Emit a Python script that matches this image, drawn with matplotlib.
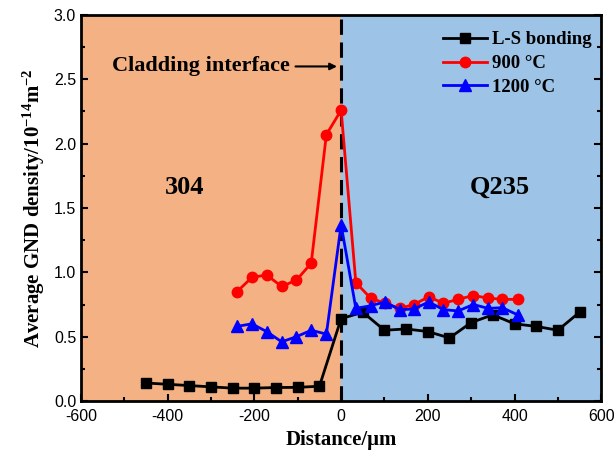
import numpy as np
import matplotlib.pyplot as plt
from matplotlib.ticker import MultipleLocator

# L-S bonding
ls_x = [-450, -400, -350, -300, -250, -200, -150, -100, -50, 0,
        50, 100, 150, 200, 250, 300, 350, 400, 450, 500, 550]
ls_y = [0.14, 0.13, 0.12, 0.11, 0.10, 0.10, 0.105, 0.106, 0.115, 0.64,
        0.69, 0.55, 0.56, 0.54, 0.49, 0.61, 0.67, 0.60, 0.58, 0.55, 0.69]

# 900 °C and 1200 °C share the same positions
ht_x = [-240, -206, -172, -137, -103, -69, -34, 0,
        34, 68, 101, 135, 168, 202, 236, 270, 305, 339, 372, 407]
y_900 = [0.85, 0.96, 0.98, 0.89, 0.94, 1.07, 2.07, 2.26,
         0.92, 0.80, 0.76, 0.72, 0.75, 0.81, 0.76, 0.79, 0.82, 0.80, 0.79, 0.79]
y_1200 = [0.58, 0.60, 0.54, 0.46, 0.50, 0.55, 0.52, 1.37,
          0.72, 0.74, 0.77, 0.71, 0.715, 0.77, 0.71, 0.70, 0.75, 0.72, 0.725, 0.67]

serif = 'Liberation Serif'
plt.rcParams['font.family'] = 'Liberation Sans'
plt.rcParams['axes.unicode_minus'] = False
plt.rcParams['mathtext.fontset'] = 'custom'
plt.rcParams['mathtext.rm'] = 'Liberation Serif:bold'
plt.rcParams['mathtext.it'] = 'Liberation Serif:bold'
plt.rcParams['mathtext.bf'] = 'Liberation Serif:bold'
plt.rcParams['mathtext.default'] = 'rm'

fig = plt.figure(figsize=(6.16, 4.54), dpi=100)
ax = fig.add_axes([0.1315, 0.1167, 0.8445, 0.8503])

ax.axvspan(-600, 0, color='#F4B183', zorder=0)
ax.axvspan(0, 600, color='#9DC3E6', zorder=0)
ax.axvline(0, color='black', lw=2.2, ls=(0, (5, 2.5)), zorder=1)

ax.plot(ls_x, ls_y, color='black', marker='s', ms=7, lw=2, label='L-S bonding', zorder=3)
ax.plot(ht_x, y_900, color='red', marker='o', ms=7.5, lw=2, label='900 °C', zorder=3)
ax.plot(ht_x, y_1200, color='blue', marker='^', ms=8, lw=2, label='1200 °C', zorder=4)

ax.set_xlim(-600, 600)
ax.set_ylim(0, 3.0)
ax.xaxis.set_major_locator(MultipleLocator(200))
ax.xaxis.set_minor_locator(MultipleLocator(100))
ax.yaxis.set_major_locator(MultipleLocator(0.5))
ax.yaxis.set_minor_locator(MultipleLocator(0.25))
ax.yaxis.set_major_formatter(plt.FormatStrFormatter('%.1f'))
ax.tick_params(which='both', direction='in', right=True, top=False, labelsize=11.5, width=1.5)
ax.tick_params(which='major', length=5)
ax.tick_params(which='minor', length=3)
ax.tick_params(axis='x', pad=6)
for s in ax.spines.values():
    s.set_linewidth(2)

ax.set_xlabel('Distance/μm', fontfamily=serif, fontweight='bold', fontsize=15, labelpad=4)
ax.set_ylabel('Average GND density/10$^{-14}$m$^{-2}$', fontfamily=serif,
              fontweight='bold', fontsize=15, labelpad=5)

ax.annotate('Cladding interface', xy=(-3, 2.6), xytext=(-118, 2.6),
            ha='right', va='center', fontfamily=serif, fontweight='bold', fontsize=16,
            arrowprops=dict(arrowstyle='-|>', color='black', lw=1.5, mutation_scale=10))
ax.text(-360, 1.66, '304', ha='center', va='center', fontfamily=serif,
        fontweight='bold', fontsize=19)
ax.text(365, 1.66, 'Q235', ha='center', va='center', fontfamily=serif,
        fontweight='bold', fontsize=19)

leg = ax.legend(loc='upper right', frameon=False, prop={'family': serif, 'weight': 'bold', 'size': 13.5},
                handlelength=2.3, labelspacing=0.35, handletextpad=0.3, borderaxespad=0.1,
                bbox_to_anchor=(1.0, 0.982))

fig.savefig('out.png', dpi=100)
